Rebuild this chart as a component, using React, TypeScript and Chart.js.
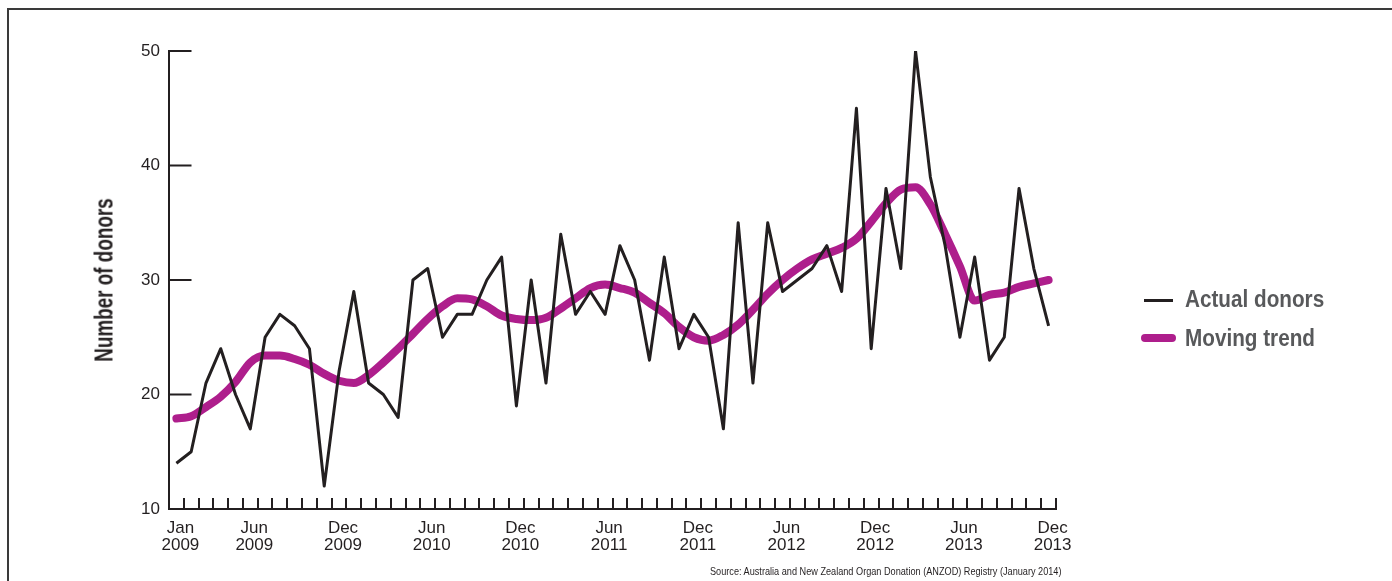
import React, { useEffect, useRef } from "react";
import { Chart, registerables } from "chart.js";

Chart.register(...registerables);

// ---------- data ----------
const monthNames = ["Jan", "Feb", "Mar", "Apr", "May", "Jun", "Jul", "Aug", "Sep", "Oct", "Nov", "Dec"];
const years = [2009, 2010, 2011, 2012, 2013];
const categories = years.flatMap((y) => monthNames.map((m) => `${m} ${y}`));

const actualDonors = [
  14, 15, 21, 24, 20, 17, 25, 27, 26, 24, 12, 22,
  29, 21, 20, 18, 30, 31, 25, 27, 27, 30, 32, 19,
  30, 21, 34, 27, 29, 27, 33, 30, 23, 32, 24, 27,
  25, 17, 35, 21, 35, 29, 30, 31, 33, 29, 45, 24,
  38, 31, 50, 39, 33, 25, 32, 23, 25, 38, 31, 26,
];

const movingTrend = [
  17.9, 18.1, 18.9, 19.8, 21.1, 22.8, 23.4, 23.4, 23.1, 22.6, 21.8, 21.2,
  21.0, 21.7, 22.8, 24.0, 25.3, 26.6, 27.7, 28.4, 28.3, 27.7, 26.9, 26.6,
  26.5, 26.7, 27.5, 28.4, 29.3, 29.6, 29.3, 28.9, 28.0, 27.1, 25.9, 25.0,
  24.7, 25.2, 26.1, 27.4, 28.8, 30.0, 31.0, 31.8, 32.3, 32.8, 33.6, 35.1,
  36.7, 37.9, 38.1, 36.6, 34.0, 31.2, 28.2, 28.7, 28.9, 29.4, 29.7, 30.0,
];

const tickLabels = [
  "Jan 2009", "Jun 2009", "Dec 2009", "Jun 2010", "Dec 2010", "Jun 2011",
  "Dec 2011", "Jun 2012", "Dec 2012", "Jun 2013", "Dec 2013",
];
const yTicks = [10, 20, 30, 40, 50];

const seriesNames = ["Actual donors", "Moving trend"];
const yTitle = "Number of donors";
const sourceText = "Source: Australia and New Zealand Organ Donation (ANZOD) Registry (January 2014)";

// ---------- styles ----------
const INK = "#231f20";
const MAGENTA = "#ae1e8c";
const LEGEND_GREY = "#58595b";
const TICK_FONT = '"Liberation Sans", Arial, sans-serif';

const innerTicks = {
  id: "innerTicks",
  beforeDatasetsDraw(chart: any) {
    const { ctx, chartArea } = chart;
    const x = chart.scales.x;
    const y = chart.scales.y;
    ctx.save();
    ctx.strokeStyle = INK;
    ctx.lineWidth = 2;
    ctx.beginPath();
    for (let i = 0; i <= categories.length; i++) {
      const px = Math.round(x.getPixelForValue(i - 0.5));
      ctx.moveTo(px, chartArea.bottom);
      ctx.lineTo(px, chartArea.bottom - 11);
    }
    for (const v of yTicks) {
      const py = y.getPixelForValue(v);
      ctx.moveTo(chartArea.left, py);
      ctx.lineTo(chartArea.left + 22.5, py);
    }
    ctx.stroke();
    ctx.restore();
  },
};

export default function App() {
  const canvasRef = useRef<HTMLCanvasElement | null>(null);

  useEffect(() => {
    if (!canvasRef.current) return;
    const chart = new Chart(canvasRef.current, {
      type: "line",
      data: {
        labels: categories,
        datasets: [
          {
            label: seriesNames[0],
            data: actualDonors,
            borderColor: INK,
            borderWidth: 3,
            tension: 0,
            pointRadius: 0,
            fill: false,
            borderJoinStyle: "round",
          },
          {
            label: seriesNames[1],
            data: movingTrend,
            borderColor: MAGENTA,
            borderWidth: 8,
            tension: 0.4,
            cubicInterpolationMode: "monotone",
            pointRadius: 0,
            fill: false,
            borderCapStyle: "round",
            borderJoinStyle: "round",
          },
        ],
      },
      options: {
        responsive: false,
        maintainAspectRatio: false,
        devicePixelRatio: 1,
        animation: false,
        layout: { padding: { left: 0, top: 51, right: 336, bottom: 0 } },
        plugins: {
          legend: { display: false },
          tooltip: { enabled: false },
          title: { display: false },
        },
        scales: {
          x: {
            type: "category",
            offset: true,
            grid: { display: false, drawTicks: false, offset: true },
            border: { display: true, color: INK, width: 2 },
            ticks: {
              autoSkip: false,
              maxRotation: 0,
              minRotation: 0,
              padding: 11,
              labelOffset: 4,
              color: INK,
              font: { family: TICK_FONT, size: 17, lineHeight: 1.0 },
              callback: (_v: any, index: number) => {
                const lab = categories[index];
                return tickLabels.includes(lab) ? lab.split(" ") : "";
              },
            },
            afterFit: (scale: any) => {
              scale.height = 72;
            },
          },
          y: {
            min: 10,
            max: 50,
            grid: { display: false, drawTicks: false },
            border: { display: true, color: INK, width: 2 },
            ticks: {
              stepSize: 10,
              padding: 9,
              color: INK,
              font: { family: TICK_FONT, size: 17 },
            },
            afterFit: (scale: any) => {
              scale.width = 169;
            },
          },
        },
      },
      plugins: [innerTicks],
    });
    return () => chart.destroy();
  }, []);

  return (
    <div
      style={{
        position: "fixed",
        left: 0,
        top: 0,
        width: 1392,
        height: 581,
        background: "#fff",
        overflow: "hidden",
        fontFamily: '"Liberation Sans", Arial, sans-serif',
      }}
    >
      <div
        style={{
          position: "absolute",
          left: 7,
          top: 8,
          width: 1500,
          height: 700,
          borderLeft: "2px solid #3a3a3a",
          borderTop: "2px solid #3a3a3a",
        }}
      />
      <canvas
        ref={canvasRef}
        width={1392}
        height={581}
        style={{ position: "absolute", left: 0, top: 0, width: 1392, height: 581 }}
      />
      <div
        style={{
          position: "absolute",
          left: 104,
          top: 280,
          transform: "translate(-50%, -50%) rotate(-90deg) scaleX(0.755)",
          fontWeight: "bold",
          fontSize: 25,
          lineHeight: "25px",
          color: INK,
          whiteSpace: "nowrap",
        }}
      >
        {yTitle}
      </div>
      {/* legend */}
      <div style={{ position: "absolute", left: 1144, top: 299, width: 29, height: 3, background: INK }} />
      <div
        style={{
          position: "absolute",
          left: 1141,
          top: 333.5,
          width: 35,
          height: 8,
          borderRadius: 4,
          background: MAGENTA,
        }}
      />
      <div
        style={{
          position: "absolute",
          left: 1185,
          top: 287.8,
          fontSize: 23,
          lineHeight: "23px",
          fontWeight: "bold",
          color: LEGEND_GREY,
          whiteSpace: "nowrap",
          transform: "scaleX(0.9)",
          transformOrigin: "left center",
        }}
      >
        {seriesNames[0]}
      </div>
      <div
        style={{
          position: "absolute",
          left: 1185,
          top: 327.2,
          fontSize: 23,
          lineHeight: "23px",
          fontWeight: "bold",
          color: LEGEND_GREY,
          whiteSpace: "nowrap",
          transform: "scaleX(0.9)",
          transformOrigin: "left center",
        }}
      >
        {seriesNames[1]}
      </div>
      <div
        style={{
          position: "absolute",
          left: 710,
          top: 565.7,
          fontSize: 11,
          lineHeight: "11px",
          color: INK,
          whiteSpace: "nowrap",
          transform: "scaleX(0.832)",
          transformOrigin: "left center",
        }}
      >
        {sourceText}
      </div>
    </div>
  );
}
